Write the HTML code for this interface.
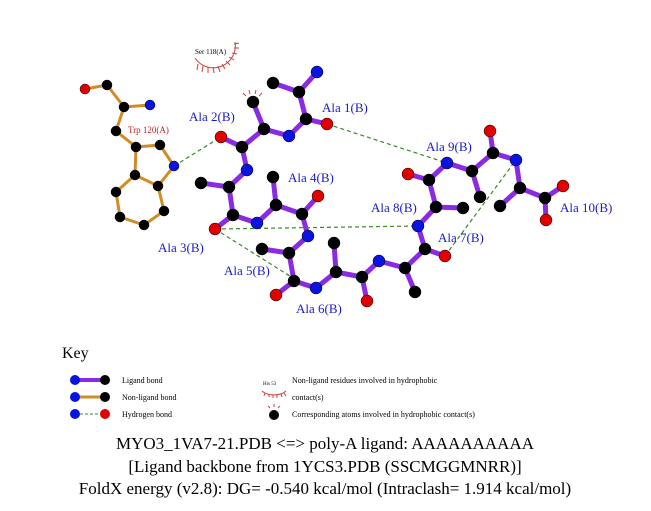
<!DOCTYPE html>
<html><head><style>body{margin:0;background:#fff}svg{display:block}</style></head><body>
<svg width="651" height="511" xmlns="http://www.w3.org/2000/svg" font-family="Liberation Serif, serif">
<g stroke="#d08c28" stroke-width="3" fill="none">
<polyline points="85,89 107,85 124,107 150,105"/>
<polyline points="124,107 116,131 136,147"/>
<polygon points="136,147 160,145 174,166 158,186 135,175"/>
<polyline points="135,175 116,192 120,217 144,225 164,211 158,186"/>
</g>
<g stroke="#8a2be2" stroke-width="5" fill="none" stroke-linecap="round">
<path d="M317,72L299,92M299,92L273,83M299,92L306,119L327,124M306,119L289,136L264,129L253,102M264,129L242,147L221,137M242,147L247,170L229,187L201,183M229,187L233,215L215,229M233,215L257,223L276,205L273,177M276,205L302,214L318,196M302,214L308,236L289,253L262,249M289,253L294,281L276,295M294,281L316,288L336,272L334,243M336,272L362,277L367,301M362,277L379,261L405,268L415,292M405,268L425,249L445,256M425,249L418,226L436,207L463,208M436,207L429,180L408,174M429,180L447,163L472,171L480,197M472,171L493,153L490,131M493,153L516,160L520,188L500,206M520,188L545,198L563,186M545,198L546,220"/>
</g>
<g stroke="#3a8a2a" stroke-width="1.2" stroke-dasharray="4,3" fill="none">
<line x1="174" y1="166" x2="221" y2="137"/>
<line x1="327" y1="124" x2="447" y2="163"/>
<line x1="215" y1="229" x2="418" y2="226"/>
<line x1="215" y1="229" x2="293" y2="278"/>
<line x1="445" y1="256" x2="516" y2="160"/>
</g>
<g stroke="#d04040" stroke-width="1" fill="none">
<path d="M195,58 A22,22 0 0 0 235,42"/>
<path d="M198,64l-1,6M203,66l-1,6M208,67l0,6M213,67l1,6M218,66l2,6M222,64l3,5M226,61l4,4M229,57l5,3M232,53l5,1M234,48l5,0M234,44l5,-1"/>
<path d="M246,96l-3,-3M250,94l-1,-4M255,94l1,-4M259,96l3,-3"/>
</g>
<g stroke="#000" stroke-width="0.5">
<g fill="#e00000"><circle cx="85" cy="89" r="5"/><circle cx="327" cy="124" r="6"/><circle cx="221" cy="137" r="6"/><circle cx="215" cy="229" r="6"/><circle cx="318" cy="196" r="6"/><circle cx="276" cy="295" r="6"/><circle cx="367" cy="301" r="6"/><circle cx="445" cy="256" r="6"/><circle cx="408" cy="174" r="6"/><circle cx="490" cy="131" r="6"/><circle cx="563" cy="186" r="6"/><circle cx="546" cy="220" r="6"/></g>
<g fill="#0a14e0"><circle cx="150" cy="105" r="5"/><circle cx="174" cy="166" r="5"/><circle cx="317" cy="72" r="6"/><circle cx="289" cy="136" r="6"/><circle cx="247" cy="170" r="6"/><circle cx="257" cy="223" r="6"/><circle cx="308" cy="236" r="6"/><circle cx="316" cy="288" r="6"/><circle cx="379" cy="261" r="6"/><circle cx="418" cy="226" r="6"/><circle cx="447" cy="163" r="6"/><circle cx="516" cy="160" r="6"/></g>
<g fill="#000"><circle cx="107" cy="85" r="5"/><circle cx="124" cy="107" r="5"/><circle cx="116" cy="131" r="5"/><circle cx="136" cy="147" r="5"/><circle cx="160" cy="145" r="5"/><circle cx="158" cy="186" r="5"/><circle cx="135" cy="175" r="5"/><circle cx="116" cy="192" r="5"/><circle cx="120" cy="217" r="5"/><circle cx="144" cy="225" r="5"/><circle cx="164" cy="211" r="5"/>
<circle cx="299" cy="92" r="6"/><circle cx="273" cy="83" r="6"/><circle cx="306" cy="119" r="6"/><circle cx="264" cy="129" r="6"/><circle cx="253" cy="102" r="6"/><circle cx="242" cy="147" r="6"/><circle cx="229" cy="187" r="6"/><circle cx="201" cy="183" r="6"/><circle cx="233" cy="215" r="6"/><circle cx="276" cy="205" r="6"/><circle cx="273" cy="177" r="6"/><circle cx="302" cy="214" r="6"/><circle cx="289" cy="253" r="6"/><circle cx="262" cy="249" r="6"/><circle cx="294" cy="281" r="6"/><circle cx="336" cy="272" r="6"/><circle cx="334" cy="243" r="6"/><circle cx="362" cy="277" r="6"/><circle cx="405" cy="268" r="6"/><circle cx="415" cy="292" r="6"/><circle cx="425" cy="249" r="6"/><circle cx="436" cy="207" r="6"/><circle cx="463" cy="208" r="6"/><circle cx="429" cy="180" r="6"/><circle cx="472" cy="171" r="6"/><circle cx="480" cy="197" r="6"/><circle cx="493" cy="153" r="6"/><circle cx="520" cy="188" r="6"/><circle cx="500" cy="206" r="6"/><circle cx="545" cy="198" r="6"/></g>
</g>
<g fill="#1c1cc8" font-size="13">
<text x="322" y="112">Ala 1(B)</text><text x="189" y="121">Ala 2(B)</text><text x="158" y="252">Ala 3(B)</text><text x="288" y="182">Ala 4(B)</text><text x="224" y="275">Ala 5(B)</text><text x="296" y="313">Ala 6(B)</text><text x="438" y="242">Ala 7(B)</text><text x="371" y="212">Ala 8(B)</text><text x="426" y="151">Ala 9(B)</text><text x="560" y="212">Ala 10(B)</text>
</g>
<text x="128" y="133" font-size="9" fill="#c02020">Trp 120(A)</text>
<text x="195" y="54" font-size="7" fill="#000">Ser 118(A)</text>
<text x="62" y="358" font-size="16">Key</text>
<line x1="75" y1="380" x2="105" y2="380" stroke="#8a2be2" stroke-width="4"/>
<circle cx="75" cy="380" r="5" fill="#0a14e0"/><circle cx="105" cy="380" r="5" fill="#000"/>
<line x1="75" y1="397" x2="105" y2="397" stroke="#d08c28" stroke-width="3"/>
<circle cx="75" cy="397" r="5" fill="#0a14e0"/><circle cx="105" cy="397" r="5" fill="#000"/>
<line x1="75" y1="414" x2="105" y2="414" stroke="#3a8a2a" stroke-width="1" stroke-dasharray="3,2"/>
<circle cx="75" cy="414" r="5" fill="#0a14e0"/><circle cx="105" cy="414" r="5" fill="#e00000"/>
<g font-size="8" fill="#000">
<text x="122" y="383">Ligand bond</text><text x="122" y="400">Non-ligand bond</text><text x="122" y="417">Hydrogen bond</text>
<text x="292" y="383">Non-ligand residues involved in hydrophobic</text><text x="292" y="400">contact(s)</text>
<text x="292" y="417">Corresponding atoms involved in hydrophobic contact(s)</text>
<text x="263" y="385" font-size="5">His 53</text>
</g>
<path d="M262,391 A14,8 0 0 0 286,391" stroke="#d04040" fill="none"/>
<path d="M265,393l-1,3M269,394l0,3M273,395l0,3M277,395l0,3M281,394l1,3M284,393l2,3" stroke="#d04040"/>
<circle cx="274" cy="415" r="5" fill="#000"/>
<path d="M270,408l-2,-2M274,407v-3M278,408l2,-2" stroke="#d04040"/>
<g font-size="17" text-anchor="middle" fill="#000">
<text x="325" y="449">MYO3_1VA7-21.PDB &lt;=&gt; poly-A ligand: AAAAAAAAAA</text>
<text x="325" y="472">[Ligand backbone from 1YCS3.PDB (SSCMGGMNRR)]</text>
<text x="325" y="494">FoldX energy (v2.8): DG= -0.540 kcal/mol (Intraclash= 1.914 kcal/mol)</text>
</g>
</svg>
</body></html>
